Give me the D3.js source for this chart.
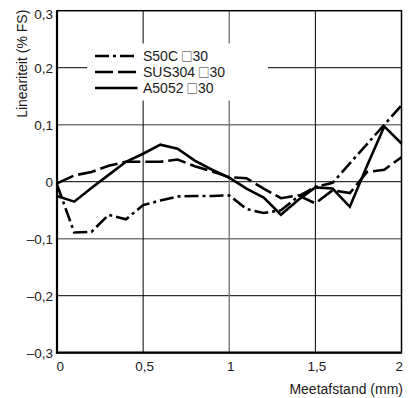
<!DOCTYPE html>
<html>
<head>
<meta charset="utf-8">
<script src="https://cdn.jsdelivr.net/npm/d3@7"></script>
<style>
  body { margin: 0; background: #fff; }
  svg { display: block; }
  text { font-family: "Liberation Sans", Arial, Helvetica, sans-serif; fill: #1a1a1a; }
</style>
</head>
<body>
<svg id="chart" width="413" height="398"></svg>
<script>
// Measuring distance (mm)
const distance = [0, 0.1, 0.2, 0.3, 0.4, 0.5, 0.6, 0.7, 0.8, 0.9, 1.0,
                  1.1, 1.2, 1.3, 1.4, 1.5, 1.6, 1.7, 1.8, 1.9, 2.0];

// Linearity (% FS) per target material
const s50c   = [-0.005, -0.089, -0.088, -0.058, -0.066, -0.041, -0.033, -0.026, -0.025, -0.025, -0.024,
                -0.048, -0.055, -0.050, -0.026, -0.009, -0.002, 0.032, 0.066, 0.100, 0.134];
const sus304 = [-0.003, 0.011, 0.017, 0.028, 0.035, 0.035, 0.035, 0.039, 0.027, 0.018, 0.008,
                0.006, -0.012, -0.029, -0.024, -0.038, -0.015, -0.020, 0.017, 0.021, 0.043];
const a5052  = [-0.025, -0.035, -0.011, 0.012, 0.035, 0.049, 0.065, 0.058, 0.037, 0.021, 0.007,
                -0.012, -0.028, -0.058, -0.032, -0.010, -0.012, -0.044, 0.028, 0.097, 0.067];

// Material name and target size (□30 = 30 mm square)
const materials = ["S50C", "SUS304", "A5052"];
const targetSize = ["30", "30", "30"];

const xTicks = [0, 0.5, 1, 1.5, 2];
const yTicks = [-0.3, -0.2, -0.1, 0, 0.1, 0.2, 0.3];

const xTitle = "Meetafstand (mm)";
const yTitle = "Lineariteit (% FS)";

// ---- layout ----
const W = 413, H = 398;
const margin = { top: 10.7, right: 11.5, bottom: 45.3, left: 57 };
const svg = d3.select("#chart");

const x = d3.scaleLinear().domain([0, 2]).range([margin.left, W - margin.right]);
const y = d3.scaleLinear().domain([-0.3, 0.3]).range([H - margin.bottom, margin.top]);

const nl = d3.formatLocale({ decimal: ",", thousands: ".", grouping: [3], currency: ["", ""], minus: "\u2013" });
const fmt = nl.format("~g");

const lineStyles = [
  { dash: "14,4,3,4" },   // dash-dot
  { dash: "18,5" },       // long dash
  { dash: null }          // solid
];

// ---- grid ----
const grid = svg.append("g");
// inner lines alternate black / grey
yTicks.slice(1, -1).forEach((v, i) => {
  grid.append("line")
    .attr("x1", x(0)).attr("x2", x(2))
    .attr("y1", y(v)).attr("y2", y(v))
    .attr("stroke", i % 2 === 0 ? "#000" : "#7a7a7a")
    .attr("stroke-width", i % 2 === 0 ? 1 : 1.4);
});
xTicks.slice(1, -1).forEach((v, i) => {
  grid.append("line")
    .attr("x1", x(v)).attr("x2", x(v))
    .attr("y1", y(-0.3)).attr("y2", y(0.3))
    .attr("stroke", i % 2 === 0 ? "#000" : "#7a7a7a")
    .attr("stroke-width", i % 2 === 0 ? 1 : 1.4);
});

// legend backing hides the grid behind it
const legendBox = { x0: x(0.175), x1: x(1.225), y0: y(0.2425), y1: y(0.1425) };
svg.append("rect")
  .attr("x", legendBox.x0).attr("y", legendBox.y0)
  .attr("width", legendBox.x1 - legendBox.x0).attr("height", legendBox.y1 - legendBox.y0)
  .attr("fill", "#fff");

// ---- frame ----
svg.append("rect")
  .attr("x", x(0)).attr("y", y(0.3))
  .attr("width", x(2) - x(0)).attr("height", y(-0.3) - y(0.3))
  .attr("fill", "none").attr("stroke", "#000").attr("stroke-width", 1.5);
svg.append("line")
  .attr("x1", x(0)).attr("x2", x(0)).attr("y1", y(0.3)).attr("y2", y(-0.3) + 1)
  .attr("stroke", "#000").attr("stroke-width", 2.2);
svg.append("line")
  .attr("x1", x(0) - 1).attr("x2", x(2)).attr("y1", y(-0.3)).attr("y2", y(-0.3))
  .attr("stroke", "#000").attr("stroke-width", 2.2);

// ---- axes labels ----
const xAxis = d3.axisBottom(x).tickValues(xTicks).tickFormat(fmt).tickSize(0).tickPadding(9);
const gx = svg.append("g").attr("transform", `translate(0,${y(-0.3)})`).call(xAxis);
gx.select(".domain").remove();
gx.selectAll("text")
  .style("font-size", "13.5px").attr("fill", "#1a1a1a")
  .attr("text-anchor", (d, i) => i === 0 ? "start" : i === xTicks.length - 1 ? "end" : "middle")
  .attr("dx", (d, i) => i === 0 ? -1 : 1);

const yAxis = d3.axisLeft(y).tickValues(yTicks).tickFormat(fmt).tickSize(0).tickPadding(4);
const gy = svg.append("g").attr("transform", `translate(${x(0)},0)`).call(yAxis);
gy.select(".domain").remove();
gy.selectAll("text")
  .style("font-size", "13.5px").attr("fill", "#1a1a1a")
  .attr("dy", d => d === 0.3 ? "0.6em" : "0.34em");

svg.append("text")
  .attr("transform", `translate(27,${y(0.3) - 1}) rotate(-90)`)
  .attr("text-anchor", "end")
  .style("font-size", "14px")
  .text(yTitle);

svg.append("text")
  .attr("x", W - 10).attr("y", 394)
  .attr("text-anchor", "end")
  .style("font-size", "14px")
  .text(xTitle);

// ---- series ----
const series = [s50c, sus304, a5052];
const line = d3.line().x((d, i) => x(distance[i])).y(d => y(d));
svg.append("g").selectAll("path").data(series).join("path")
  .attr("d", d => line(d))
  .attr("fill", "none")
  .attr("stroke", "#000")
  .attr("stroke-width", 2.6)
  .attr("stroke-dasharray", (d, i) => lineStyles[i].dash);

// ---- legend ----
const lg = svg.append("g");
const rowY = [56, 72, 88];
materials.forEach((name, i) => {
  lg.append("line")
    .attr("x1", 95).attr("x2", 137.5)
    .attr("y1", rowY[i]).attr("y2", rowY[i])
    .attr("stroke", "#000").attr("stroke-width", 2.6)
    .attr("stroke-dasharray", lineStyles[i].dash);
  const t = lg.append("text")
    .attr("x", 143).attr("y", rowY[i])
    .attr("dy", "0.36em")
    .style("font-size", "14px");
  t.append("tspan").text(name + " ");
  t.append("tspan")
    .style("font-family", "'Noto Sans CJK JP', 'DejaVu Sans', sans-serif")
    .style("font-size", "11.5px")
    .attr("dx", -1)
    .text("\u25A1");
  t.append("tspan").text(targetSize[i]);
});
</script>
</body>
</html>
